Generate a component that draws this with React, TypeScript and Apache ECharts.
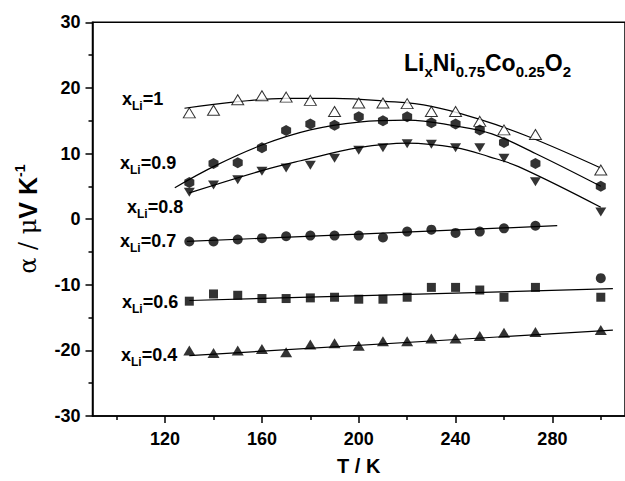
import React, { useEffect, useRef } from "react";
import * as echarts from "echarts";

// Temperatures (K)
const temps = [130, 140, 150, 160, 170, 180, 190, 200, 210, 220, 230, 240, 250, 260, 273, 300];

// Seebeck coefficient (µV/K) for each x_Li
const alpha10 = [16.2, 16.6, 18.2, 18.8, 18.6, 18.1, 16.4, 17.7, 17.7, 17.6, 16.4, 16.4, 14.9, 13.6, 12.9, 7.5];
const alpha09 = [5.6, 8.5, 8.6, 10.9, 13.5, 14.5, 14.3, 15.6, 15.0, 15.6, 14.7, 14.5, 13.6, 11.7, 8.5, 5.0];
const alpha08 = [4.1, 5.2, 6.0, 7.3, 7.8, 8.2, 9.3, 10.5, 10.9, 11.5, 11.4, 10.9, 10.9, 9.3, 5.7, 1.1];
const alpha07 = [-3.4, -3.4, -3.1, -2.9, -2.6, -2.5, -2.5, -2.5, -2.8, -1.9, -1.6, -2.1, -1.9, -1.4, -1.0, -9.0];
const alpha06 = [-12.5, -11.4, -11.6, -12.1, -12.1, -12.0, -11.9, -12.2, -12.2, -11.9, -10.4, -10.4, -10.8, -11.9, -10.4, -11.9];
const alpha04 = [-20.0, -20.4, -20.0, -19.8, -20.3, -19.1, -18.9, -19.3, -18.6, -18.6, -18.2, -18.2, -17.8, -17.3, -17.2, -16.9];

// Fitted curves
const fit10T = [128, 150, 170, 190, 210, 230, 250, 270, 300];
const fit10V = [16.9, 17.9, 18.4, 18.4, 18.0, 17.2, 15.2, 12.6, 7.8];
const fit09T = [124, 141, 160, 180, 200, 220, 240, 255, 273, 300];
const fit09V = [4.8, 8.2, 11.3, 13.6, 14.8, 15.1, 14.2, 13.0, 10.0, 5.0];
const fit08T = [130, 160, 176, 200, 220, 240, 254, 266, 300];
const fit08V = [4.0, 7.4, 8.9, 10.9, 11.6, 10.9, 9.5, 8.0, 1.8];
const fit07T = [129, 282];
const fit07V = [-3.4, -1.0];
const fit06T = [130, 305];
const fit06V = [-12.4, -10.6];
const fit04T = [130, 305];
const fit04V = [-20.8, -16.9];

// Axis ticks
const xLabelTicks = [120, 160, 200, 240, 280];
const xMinorTicks = [100, 140, 180, 220, 260, 300];

const FONT = "'Liberation Sans', Arial, Helvetica, sans-serif";

const pairs = (xs: number[], ys: number[]) => xs.map((x, i) => [x, ys[i]]);

const HEX = "path://M0,-10L8.66,-5L8.66,5L0,10L-8.66,5L-8.66,-5Z";

export default function App() {
  const ref = useRef<HTMLDivElement>(null);
  useEffect(() => {
    const chart = echarts.init(ref.current!, null, { renderer: "svg" });

    const scatter = (name: string, data: number[], symbol: string, size: any, extra: any = {}) => ({
      name,
      type: "scatter",
      xAxisIndex: 0,
      yAxisIndex: 0,
      data: pairs(temps, data),
      symbol,
      symbolSize: size,
      itemStyle: { color: "#000" },
      z: 5,
      ...extra,
    });
    const fit = (name: string, xs: number[], ys: number[]) => ({
      name,
      type: "line",
      xAxisIndex: 0,
      yAxisIndex: 0,
      data: pairs(xs, ys),
      smooth: 0.4,
      showSymbol: false,
      symbol: "none",
      lineStyle: { color: "#000", width: 1.2 },
      z: 3,
    });

    const subLabel = (val: string, x: number, y: number) => ({
      type: "text",
      x,
      y,
      style: {
        text: `{a|x}{s|Li}{a|=${val}}`,
        verticalAlign: "middle",
        fill: "#000",
        rich: {
          a: { fontSize: 18, fontWeight: "bold", fontFamily: FONT, fill: "#000" },
          s: { fontSize: 12, fontWeight: "bold", fontFamily: FONT, fill: "#000", padding: [14, 0, 0, 0] },
        },
      },
    });

    const option: any = {
      animation: false,
      backgroundColor: "#fff",
      grid: {
        left: 92.5,
        right: -2,
        top: 22.3,
        bottom: 63,
        show: true,
        borderColor: "#000",
        borderWidth: 1.5,
        backgroundColor: "transparent",
      },
      xAxis: [
        {
          type: "value",
          min: 90,
          max: 310,
          position: "bottom",
          axisLine: { onZero: false, lineStyle: { color: "#000", width: 1.5 } },
          axisTick: { customValues: xLabelTicks, length: 7, lineStyle: { color: "#000", width: 1.5 } },
          axisLabel: {
            customValues: xLabelTicks,
            fontSize: 18,
            fontWeight: "bold",
            fontFamily: FONT,
            color: "#000",
            margin: 14,
          },
          splitLine: { show: false },
          name: "T / K",
          nameLocation: "middle",
          nameGap: 40,
          nameTextStyle: { fontSize: 20, fontWeight: "bold", fontFamily: FONT, color: "#000" },
        },
        {
          type: "value",
          min: 90,
          max: 310,
          position: "bottom",
          axisLine: { show: false, onZero: false },
          axisTick: { customValues: xMinorTicks, length: 4, lineStyle: { color: "#000", width: 1.5 } },
          axisLabel: { show: false },
          splitLine: { show: false },
        },
      ],
      yAxis: {
        type: "value",
        min: -30,
        max: 30,
        interval: 10,
        axisLine: { show: true, onZero: false, lineStyle: { color: "#000", width: 1.5 } },
        axisTick: { show: true, length: 7, lineStyle: { color: "#000", width: 1.5 } },
        minorTick: { show: true, splitNumber: 2, length: 4, lineStyle: { color: "#000", width: 1.5 } },
        axisLabel: { fontSize: 18, fontWeight: "bold", fontFamily: FONT, color: "#000", margin: 12 },
        splitLine: { show: false },
        minorSplitLine: { show: false },
        name: "{g|α / μ}{b|V K}{p|-1}",
        nameLocation: "middle",
        nameRotate: 90,
        nameGap: 50,
        nameTextStyle: {
          color: "#000",
          rich: {
            g: { fontSize: 24, fontFamily: "'DejaVu Serif', serif", color: "#000" },
            b: { fontSize: 25, fontWeight: "bold", fontFamily: FONT, color: "#000" },
            p: { fontSize: 14, fontWeight: "bold", fontFamily: FONT, color: "#000", padding: [0, 0, 16, 0] },
          },
        },
      },
      graphic: [
        subLabel("1", 122, 99),
        subLabel("0.9", 120, 163),
        subLabel("0.8", 127, 207),
        subLabel("0.7", 120, 241),
        subLabel("0.6", 122, 302),
        subLabel("0.4", 121, 355),
        {
          type: "text",
          x: 404,
          y: 63,
          style: {
            text: "{m|Li}{s|x}{m|Ni}{s|0.75}{m|Co}{s|0.25}{m|O}{s|2}",
            verticalAlign: "middle",
            fill: "#000",
            rich: {
              m: { fontSize: 23, fontWeight: "bold", fontFamily: FONT, fill: "#000" },
              s: { fontSize: 15, fontWeight: "bold", fontFamily: FONT, fill: "#000", padding: [16, 0, 0, 0] },
            },
          },
        },
      ],
      series: [
        fit("fit1", fit10T, fit10V),
        fit("fit0.9", fit09T, fit09V),
        fit("fit0.8", fit08T, fit08V),
        fit("fit0.7", fit07T, fit07V),
        fit("fit0.6", fit06T, fit06V),
        fit("fit0.4", fit04T, fit04V),
        scatter("x=1", alpha10, "triangle", [12, 10], {
          itemStyle: { color: "#fff", borderColor: "#000", borderWidth: 1 },
        }),
        scatter("x=0.9", alpha09, HEX, [10, 11]),
        scatter("x=0.8", alpha08, "triangle", [11, 9], { symbolRotate: 180 }),
        scatter("x=0.7", alpha07, "circle", 10),
        scatter("x=0.6", alpha06, "rect", 9),
        scatter("x=0.4", alpha04, "triangle", [12, 10]),
      ],
    };

    chart.setOption(option);
    return () => chart.dispose();
  }, []);

  return (
    <div
      ref={ref}
      style={{ position: "fixed", left: 0, top: 0, width: 625, height: 481, background: "#fff" }}
    />
  );
}
